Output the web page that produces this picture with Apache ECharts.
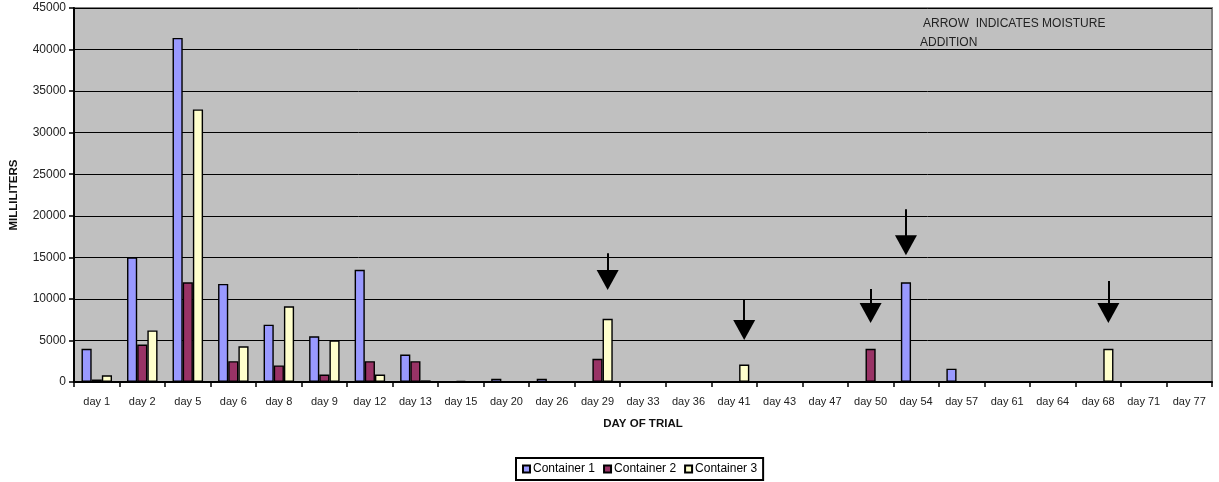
<!DOCTYPE html>
<html><head><meta charset="utf-8">
<script src="https://cdn.jsdelivr.net/npm/echarts@6/dist/echarts.min.js"></script>
<style>html,body{margin:0;padding:0;background:#fff}#c{width:1219px;height:482px}</style>
</head><body><div id="c"></div>
<script>
var categories = ['day 1','day 2','day 5','day 6','day 8','day 9','day 12','day 13','day 15','day 20','day 26','day 29','day 33','day 36','day 41','day 43','day 47','day 50','day 54','day 57','day 61','day 64','day 68','day 71','day 77'];
var container1 = [4000,15000,41400,11800,6900,5500,13500,3300,100,400,400,100,0,0,0,0,0,0,12000,1600,0,0,0,0,0];
var container2 = [300,4500,12000,2500,2000,900,2500,2500,150,0,0,2800,0,0,0,0,0,4000,0,0,0,0,0,0,0];
var container3 = [800,6200,32800,4300,9100,5000,900,200,0,0,0,7600,0,0,2100,0,0,0,0,0,0,0,4000,0,0];
var yTicks = [0,5000,10000,15000,20000,25000,30000,35000,40000,45000];
// moisture-addition arrows: category, series index, shaft top value, arrow head centre value
var arrowCats = ['day 29','day 41','day 50','day 54','day 68'];
var arrowSeries = [2,2,1,0,2];
var arrowTop = [15500,9980,11180,20800,12140];
var arrowHead = [12260,6250,8290,16460,8290];

var seriesNames = ['Container 1','Container 2','Container 3'];
var seriesData = [container1, container2, container3];
var colors = ['#9999FF','#993366','#FFFFCC'];
var font = 'Liberation Sans, Arial, sans-serif';

var series = seriesData.map(function(d, i){
  var lines = [];
  for (var k = 0; k < arrowCats.length; k++) {
    if (arrowSeries[k] === i) {
      lines.push([{coord:[arrowCats[k], arrowTop[k]]},{coord:[arrowCats[k], arrowHead[k]]}]);
    }
  }
  return {
    name: seriesNames[i], type: 'bar', data: d,
    barGap: '0%', barCategoryGap: '33%',
    itemStyle: {color: colors[i], borderColor: '#000', borderWidth: 1.4},
    emphasis: {disabled: true},
    markLine: {
      silent: true, animation: false,
      symbol: ['none','triangle'], symbolSize: [22, 20],
      label: {show: false},
      lineStyle: {color: '#000', width: 2, type: 'solid'},
      itemStyle: {color: '#000'},
      emphasis: {disabled: true},
      data: lines
    }
  };
});

var chart = echarts.init(document.getElementById('c'), null, {renderer: 'canvas'});
chart.setOption({
  animation: false,
  backgroundColor: '#fff',
  color: colors,
  grid: {left: 74, right: 7, top: 8, bottom: 100, show: true, backgroundColor: '#C0C0C0', borderColor: '#808080', borderWidth: 2},
  xAxis: {
    type: 'category', data: categories,
    name: 'DAY OF TRIAL', nameLocation: 'middle', nameGap: 36,
    nameTextStyle: {fontFamily: font, fontSize: 11.5, fontWeight: 'bold', color: '#111'},
    axisLine: {lineStyle: {color: '#000', width: 2}},
    axisTick: {show: true, length: 5, lineStyle: {color: '#000', width: 1.5}},
    axisLabel: {fontFamily: font, fontSize: 11, color: '#222', margin: 14, interval: 0},
    splitLine: {show: false}
  },
  yAxis: {
    type: 'value', min: 0, max: 45000, interval: 5000,
    name: 'MILLILITERS', nameLocation: 'middle', nameGap: 54,
    nameTextStyle: {fontFamily: font, fontSize: 11.5, fontWeight: 'bold', color: '#111'},
    axisLine: {show: true, lineStyle: {color: '#000', width: 2}},
    axisTick: {show: true, length: 5, lineStyle: {color: '#000', width: 1.5}},
    axisLabel: {fontFamily: font, fontSize: 12, color: '#222', margin: 8,
      formatter: function(v){ return yTicks.indexOf(v) >= 0 ? String(v) : ''; }},
    splitLine: {show: true, lineStyle: {color: '#000', width: 1}}
  },
  legend: {
    show: true, left: 516, bottom: 2, orient: 'horizontal',
    borderColor: '#000', borderWidth: 2, padding: [5, 6, 5, 6],
    itemWidth: 7, itemHeight: 7, itemGap: 8, icon: 'rect',
    textStyle: {fontFamily: font, fontSize: 12, color: '#000', padding: [0,0,0,-2]},
    selectedMode: false,
    data: seriesNames
  },
  graphic: [
    {type: 'text', left: 923, top: 18, style: {text: 'ARROW  INDICATES MOISTURE', font: '12px ' + font, fill: '#222'}},
    {type: 'text', left: 920, top: 37, style: {text: 'ADDITION', font: '12px ' + font, fill: '#222'}}
  ],
  series: series
});
</script>
</body></html>
